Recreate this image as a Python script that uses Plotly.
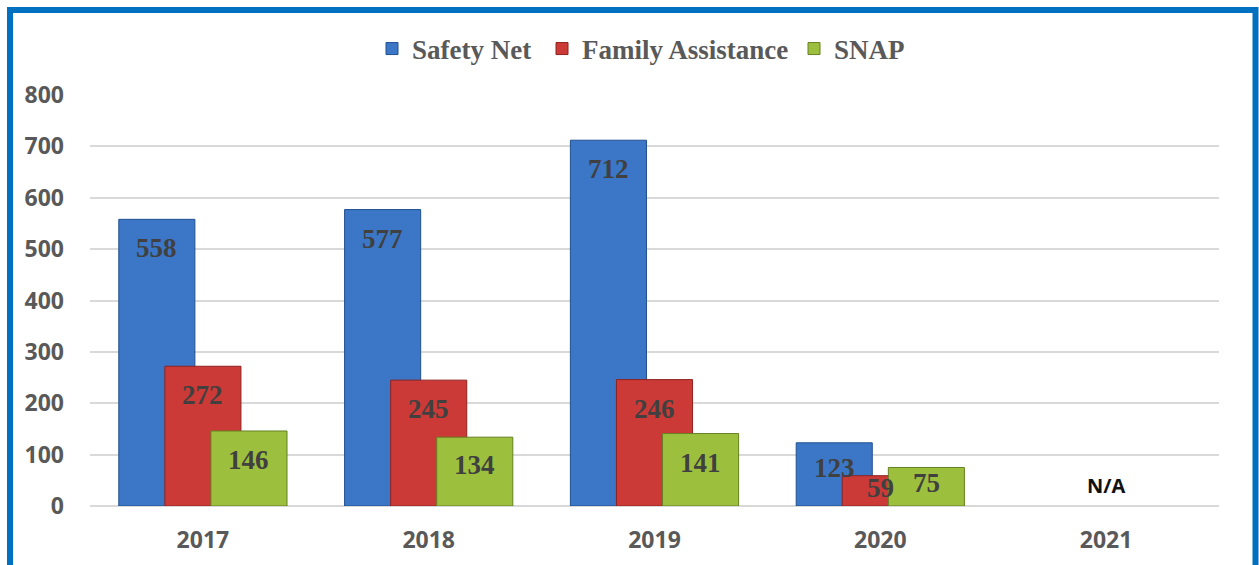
import plotly.graph_objects as go

# Caseload counts by program and year
years = ["2017", "2018", "2019", "2020", "2021"]
safety_net = [558, 577, 712, 123, None]
family_assistance = [272, 245, 246, 59, None]
snap = [146, 134, 141, 75, None]
y_ticks = [0, 100, 200, 300, 400, 500, 600, 700, 800]

W, H = 1259, 565
M = dict(l=90, r=40, t=95, b=59)
plot_w = W - M["l"] - M["r"]
plot_h = H - M["t"] - M["b"]


def px_x(p):
    return (p - M["l"]) / plot_w


def px_y(p):
    return (H - M["b"] - p) / plot_h


series = [
    ("Safety Net", safety_net, "#3B77C6", "#22508F", -0.204, 125),
    ("Family Assistance", family_assistance, "#CB3A36", "#8E2220", 0.0, 207),
    ("SNAP", snap, "#9CC03E", "#667F22", 0.204, 80),
]
bar_w = 0.337

fig = go.Figure()
annotations = []
for name, vals, color, edge, center, entry_w in series:
    fig.add_trace(go.Bar(
        name=f"<b>{name}</b>",
        x=years,
        y=vals,
        width=bar_w,
        offset=center - bar_w / 2,
        marker=dict(color=color, line=dict(color=edge, width=1)),
        legendwidth=entry_w,
    ))
    for i, v in enumerate(vals):
        if v is None:
            continue
        bar_px = v / 800 * plot_h
        annotations.append(dict(
            x=i + center, y=v, xref="x", yref="y",
            text=f"<b>{v}</b>", showarrow=False,
            yanchor="middle", yshift=-min(29, 0.4 * bar_px),
            font=dict(family="Liberation Serif", size=27, color="#404040"),
        ))

annotations.append(dict(
    x=4, y=0, xref="x", yref="y", text="<b>N/A</b>", showarrow=False,
    yanchor="bottom", yshift=5,
    font=dict(family="Open Sans", size=20, color="#111111"),
))

fig.update_layout(
    width=W, height=H,
    margin=M,
    barmode="overlay",
    paper_bgcolor="white",
    plot_bgcolor="white",
    font=dict(family="Open Sans", color="#595959"),
    legend=dict(
        orientation="h",
        x=px_x(372), xanchor="left",
        y=px_y(49), yanchor="middle",
        font=dict(family="Liberation Serif", size=27, color="#595959"),
        itemwidth=30,
        traceorder="normal",
    ),
    xaxis=dict(
        type="category",
        categoryorder="array",
        categoryarray=years,
        range=[-0.5, 4.5],
        showgrid=False,
        showline=False,
        ticks="",
        automargin=False,
        ticklabelstandoff=18,
        tickfont=dict(family="Open Sans", size=23, color="#595959", weight="bold"),
    ),
    yaxis=dict(
        range=[0, 800],
        tickvals=y_ticks,
        showgrid=True,
        gridcolor="#D9D9D9",
        gridwidth=2,
        zeroline=True,
        zerolinecolor="#D9D9D9",
        zerolinewidth=2,
        ticks="",
        automargin=False,
        ticklabelstandoff=25,
        tickfont=dict(family="Open Sans", size=23, color="#595959", weight="bold"),
    ),
    annotations=annotations,
    shapes=[dict(
        type="rect", xref="paper", yref="paper",
        x0=px_x(10), x1=px_x(1255.5), y0=px_y(600), y1=px_y(10),
        line=dict(color="#0070C0", width=6), layer="above",
    )],
)

fig.write_html("out.html")
